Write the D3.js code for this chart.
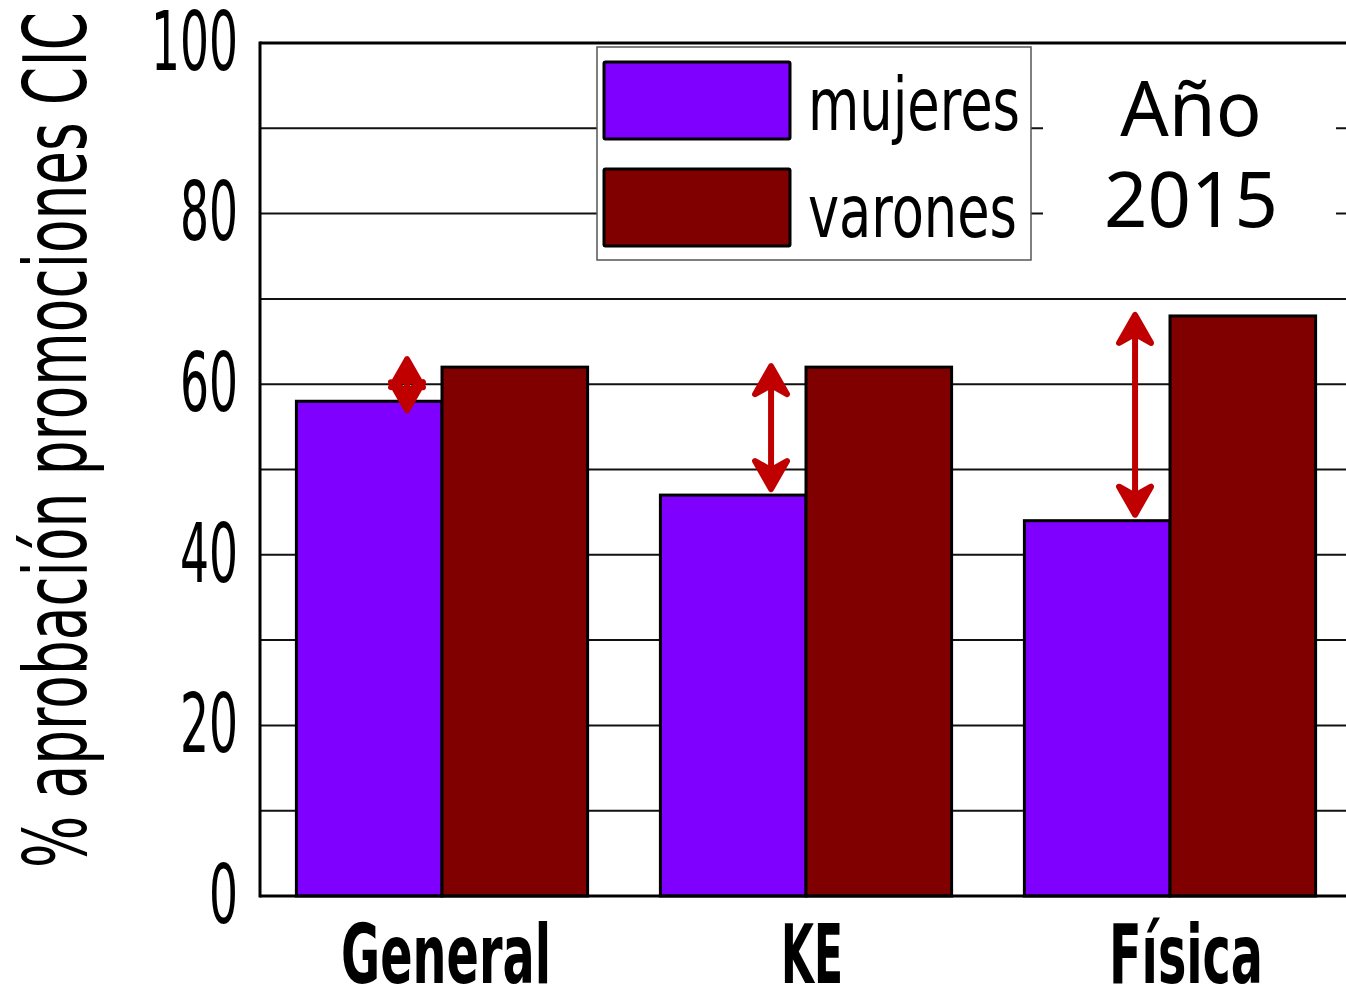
<!DOCTYPE html>
<html>
<head>
<meta charset="utf-8">
<script src="https://cdn.jsdelivr.net/npm/d3@7"></script>
<style>
  html, body { margin: 0; padding: 0; background: #fff; }
  svg { display: block; }
  .cond { font-family: 'DejaVu Sans Condensed', 'DejaVu Sans', sans-serif; }
</style>
</head>
<body>
<svg id="chart" width="1346" height="995"></svg>
<script>
// data
const categories = ['General', 'KE', 'Física'];
const seriesNames = ['mujeres', 'varones'];
const mujeres = [58, 47, 44];
const varones = [62, 62, 68];
const yTicks = [0, 20, 40, 60, 80, 100];
const yGrid = [10, 20, 30, 40, 50, 60, 70, 80, 90];
const yLabel = '% aprobación promociones CIC';
const yearLines = ['Año', '2015'];

const colors = { mujeres: '#8000ff', varones: '#800000' };
const arrowColor = '#c00000';

const W = 1346, H = 995;
const plotLeft = 260, plotRight = 1352, plotTop = 43, plotBottom = 896;

const svg = d3.select('#chart');

const x = d3.scaleBand().domain(categories).range([plotLeft, plotRight])
    .paddingInner(0.2).paddingOuter(0.1);
const xs = d3.scaleBand().domain(seriesNames).range([0, x.bandwidth()]);
const y = d3.scaleLinear().domain([0, 100]).range([plotBottom, plotTop]);

const rows = categories.map((c, i) => ({ cat: c, mujeres: mujeres[i], varones: varones[i] }));

// gridlines
svg.append('g').selectAll('line').data(yGrid).enter().append('line')
    .attr('x1', plotLeft).attr('x2', W)
    .attr('y1', d => y(d)).attr('y2', d => y(d))
    .attr('stroke', '#111').attr('stroke-width', 2);

// bars
const groups = svg.append('g').selectAll('g').data(rows).enter().append('g')
    .attr('transform', d => `translate(${x(d.cat)},0)`);
groups.selectAll('rect')
    .data(d => seriesNames.map(s => ({ s, v: d[s] })))
    .enter().append('rect')
    .attr('x', d => xs(d.s))
    .attr('y', d => y(d.v))
    .attr('width', xs.bandwidth())
    .attr('height', d => plotBottom - y(d.v))
    .attr('fill', d => colors[d.s])
    .attr('stroke', '#000').attr('stroke-width', 3);

// frame: top line, bottom axis, left axis
svg.append('line').attr('x1', plotLeft).attr('x2', W).attr('y1', plotTop).attr('y2', plotTop)
    .attr('stroke', '#000').attr('stroke-width', 3);
svg.append('line').attr('x1', plotLeft).attr('x2', W).attr('y1', plotBottom).attr('y2', plotBottom)
    .attr('stroke', '#000').attr('stroke-width', 3);

const yAxis = svg.append('g')
    .attr('transform', `translate(${plotLeft},0)`)
    .call(d3.axisLeft(y).tickValues(yTicks).tickSize(0).tickPadding(22));
yAxis.select('.domain').attr('stroke', '#000').attr('stroke-width', 3)
    .attr('d', `M0,${plotTop - 1.5}V${plotBottom + 1.5}`);
yAxis.selectAll('text')
    .attr('class', 'cond')
    .attr('font-size', 82)
    .attr('fill', '#000')
    .attr('textLength', d => String(d).length * 29)
    .attr('lengthAdjust', 'spacingAndGlyphs');

// y label
svg.append('text')
    .attr('class', 'cond')
    .attr('transform', 'translate(86,440) rotate(-90)')
    .attr('text-anchor', 'middle')
    .attr('font-size', 88)
    .attr('textLength', 856)
    .attr('lengthAdjust', 'spacingAndGlyphs')
    .text(yLabel);

// x labels
const xLabelWidth = { 'General': 210, 'KE': 62, 'Física': 154 };
const xLabelShift = { 'General': 4, 'KE': 6, 'Física': 16 };
svg.append('g').selectAll('text').data(categories).enter().append('text')
    .attr('class', 'cond')
    .attr('x', d => x(d) + x.bandwidth() / 2 + xLabelShift[d])
    .attr('y', 983)
    .attr('text-anchor', 'middle')
    .attr('font-size', 82)
    .attr('font-weight', 'bold')
    .attr('textLength', d => xLabelWidth[d])
    .attr('lengthAdjust', 'spacingAndGlyphs')
    .text(d => d);

// legend
const legend = svg.append('g');
legend.append('rect')
    .attr('x', 597).attr('y', 47).attr('width', 434).attr('height', 213)
    .attr('fill', '#fff').attr('stroke', '#555').attr('stroke-width', 1.5);
const legendWidth = { mujeres: 212, varones: 209 };
const li = legend.selectAll('g').data(seriesNames).enter().append('g')
    .attr('transform', (d, i) => `translate(0,${i * 107})`);
li.append('rect')
    .attr('x', 604).attr('y', 62).attr('width', 186).attr('height', 77)
    .attr('fill', d => colors[d]).attr('stroke', '#000').attr('stroke-width', 3)
    .attr('rx', 1.5);
li.append('text')
    .attr('class', 'cond')
    .attr('x', 808).attr('y', 130)
    .attr('font-size', 73)
    .attr('textLength', d => legendWidth[d])
    .attr('lengthAdjust', 'spacingAndGlyphs')
    .text(d => d);

// year box
const yearBox = svg.append('g');
yearBox.append('rect')
    .attr('x', 1043).attr('y', 52).attr('width', 293).attr('height', 215)
    .attr('fill', '#fff');
yearBox.selectAll('text').data(yearLines).enter().append('text')
    .attr('x', 1191)
    .attr('y', (d, i) => 136 + i * 91)
    .attr('text-anchor', 'middle')
    .attr('font-family', "'Noto Sans', 'Open Sans', sans-serif")
    .attr('font-size', 76)
    .attr('fill', '#000')
    .text(d => d);

// difference arrows
function head(g, ax, ay, dir) {
    // dir = -1 points up, 1 points down
    const l = 28, w = 16;
    g.append('path')
        .attr('d', `M${ax},${ay} L${ax - w},${ay - dir * l} L${ax},${ay - dir * (l - 9)} L${ax + w},${ay - dir * l} Z`)
        .attr('fill', arrowColor).attr('stroke', arrowColor)
        .attr('stroke-width', 6).attr('stroke-linejoin', 'round');
}
const arrows = svg.append('g');
rows.forEach(d => {
    const ax = x(d.cat) + x.bandwidth() * 0.38;
    const mid = (y(d.varones) + y(d.mujeres)) / 2;
    const tipTop = Math.min(y(d.varones) - 4, mid - 28);
    const tipBottom = Math.max(y(d.mujeres) - 3, mid + 29);
    const g = arrows.append('g');
    g.append('line')
        .attr('x1', ax).attr('x2', ax)
        .attr('y1', tipTop + 12).attr('y2', tipBottom - 12)
        .attr('stroke', arrowColor).attr('stroke-width', 6);
    head(g, ax, tipTop + 3, -1);
    head(g, ax, tipBottom - 3, 1);
});
</script>
</body>
</html>
